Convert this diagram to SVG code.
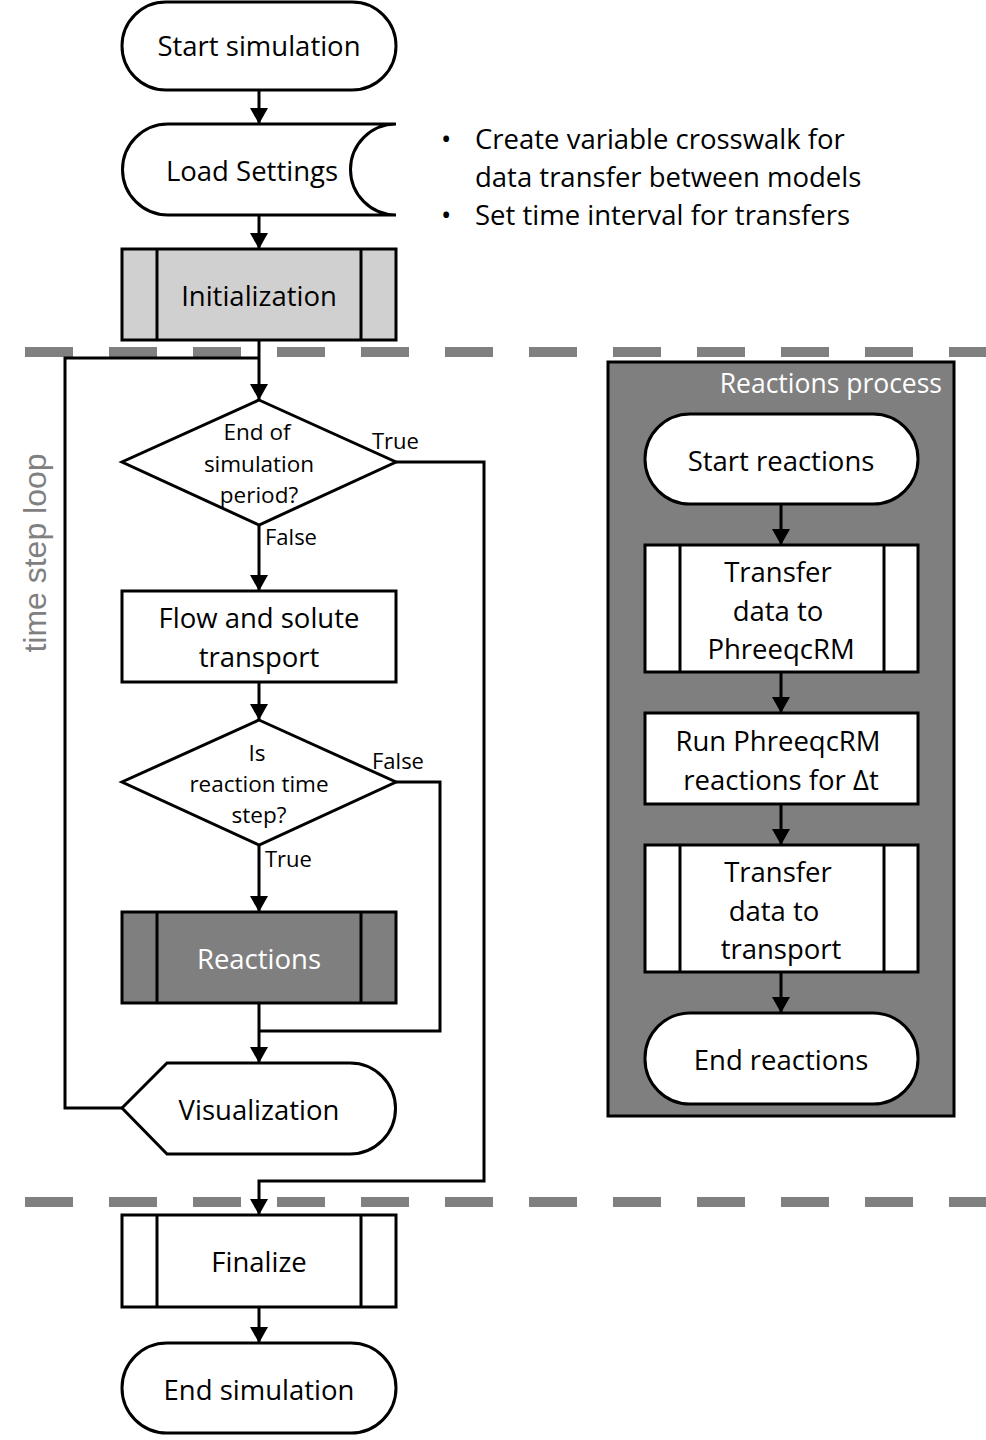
<svg xmlns="http://www.w3.org/2000/svg" width="986" height="1440" viewBox="0 0 986 1440">
  <defs>
    <marker id="arrow" viewBox="0 0 16 18" refX="16" refY="9" markerWidth="16" markerHeight="18" markerUnits="userSpaceOnUse" orient="auto">
      <path d="M0,0 L16,9 L0,18 Z" fill="#000"/>
    </marker>
    <style>
      .shape { fill: #fff; stroke: #000; stroke-width: 3; }
      .light { fill: #d0d0d0; }
      .dark { fill: #7f7f7f; }
      .line { fill: none; stroke: #000; stroke-width: 3; }
      .arr { fill: none; stroke: #000; stroke-width: 3; marker-end: url(#arrow); }
      .dash { fill: none; stroke: #808080; stroke-width: 10; stroke-dasharray: 48 36; }
      .lbl { font-family: "Open Sans", "Noto Sans", sans-serif; font-size: 27.5px; fill: #000; text-anchor: middle; }
      .note { font-family: "Open Sans", "Noto Sans", sans-serif; font-size: 27.5px; fill: #000; }
      .sm { font-family: "Open Sans", "Noto Sans", sans-serif; font-size: 22.5px; fill: #000; text-anchor: middle; }
      .tag { font-family: "Open Sans", "Noto Sans", sans-serif; font-size: 22px; fill: #000; }
      .white { fill: #fff; }
    </style>
  </defs>

  <!-- phase separators -->
  <line class="dash" x1="25" y1="352" x2="986" y2="352"/>
  <line class="dash" x1="25" y1="1202" x2="986" y2="1202"/>

  <text x="46" y="553" transform="rotate(-90 46 553)" style="font-family:'Liberation Sans',Arial,sans-serif;font-size:32px;fill:#808080;text-anchor:middle">time step loop</text>

  <!-- connectors -->
  <g id="connectors">
    <line class="arr" x1="259" y1="90" x2="259" y2="124"/>
    <line class="arr" x1="259" y1="215" x2="259" y2="249"/>
    <line class="arr" x1="259" y1="340" x2="259" y2="400"/>
    <polyline class="line" points="122,1108 65,1108 65,358 259,358"/>
    <polyline class="arr" points="396,462 484,462 484,1181 259,1181 259,1215"/>
    <line class="arr" x1="259" y1="525" x2="259" y2="591"/>
    <line class="arr" x1="259" y1="682" x2="259" y2="720"/>
    <line class="arr" x1="259" y1="845" x2="259" y2="912"/>
    <polyline class="line" points="396,782 440,782 440,1031 259,1031"/>
    <line class="arr" x1="259" y1="1003" x2="259" y2="1063"/>
    <line class="arr" x1="259" y1="1307" x2="259" y2="1343"/>
    <text class="tag" x="372" y="449">True</text>
    <text class="tag" x="265" y="545">False</text>
    <text class="tag" x="372" y="769">False</text>
    <text class="tag" x="265" y="867">True</text>
  </g>

  <g id="start-simulation">
    <rect class="shape" x="122" y="2" width="274" height="88" rx="44"/>
    <text class="lbl" x="259" y="56">Start simulation</text>
  </g>

  <g id="load-settings">
    <path class="shape" d="M396,124 L168,124 A45.5,45.5 0 0 0 168,215 L396,215 A45.5,45.5 0 0 1 396,124 Z"/>
    <text class="lbl" x="252" y="181">Load Settings</text>
  </g>

  <g id="notes">
    <text class="note" x="441" y="149">•</text>
    <text class="note" x="475" y="149">Create variable crosswalk for</text>
    <text class="note" x="475" y="187">data transfer between models</text>
    <text class="note" x="441" y="225">•</text>
    <text class="note" x="475" y="225">Set time interval for transfers</text>
  </g>

  <g id="initialization">
    <rect class="shape light" x="122" y="249" width="274" height="91"/>
    <line class="line" x1="157" y1="249" x2="157" y2="340"/>
    <line class="line" x1="361" y1="249" x2="361" y2="340"/>
    <text class="lbl" x="259" y="306">Initialization</text>
  </g>

  <g id="end-of-period">
    <polygon class="shape" points="259,400 396,462 259,525 122,462"/>
    <text class="sm" x="257" y="440">End of</text>
    <text class="sm" x="259" y="472">simulation</text>
    <text class="sm" x="259" y="503">period?</text>
  </g>

  <g id="flow-transport">
    <rect class="shape" x="122" y="591" width="274" height="91"/>
    <text class="lbl" x="259" y="628">Flow and solute</text>
    <text class="lbl" x="259" y="667">transport</text>
  </g>

  <g id="reaction-step">
    <polygon class="shape" points="259,720 396,782 259,845 122,782"/>
    <text class="sm" x="257" y="761">Is</text>
    <text class="sm" x="259" y="792">reaction time</text>
    <text class="sm" x="259" y="823">step?</text>
  </g>

  <g id="reactions">
    <rect class="shape dark" x="122" y="912" width="274" height="91"/>
    <line class="line" x1="157" y1="912" x2="157" y2="1003"/>
    <line class="line" x1="361" y1="912" x2="361" y2="1003"/>
    <text class="lbl white" x="259" y="969">Reactions</text>
  </g>

  <g id="visualization">
    <path class="shape" d="M122,1108 L167,1063 L350,1063 A45.5,45.5 0 0 1 350,1154 L167,1154 Z"/>
    <text class="lbl" x="259" y="1120">Visualization</text>
  </g>

  <g id="finalize">
    <rect class="shape" x="122" y="1215" width="274" height="92"/>
    <line class="line" x1="157" y1="1215" x2="157" y2="1307"/>
    <line class="line" x1="361" y1="1215" x2="361" y2="1307"/>
    <text class="lbl" x="259" y="1272">Finalize</text>
  </g>

  <g id="end-simulation">
    <rect class="shape" x="122" y="1343" width="274" height="90" rx="45"/>
    <text class="lbl" x="259" y="1400">End simulation</text>
  </g>

  <!-- reactions subprocess panel -->
  <g id="reactions-process">
    <rect x="608" y="362" width="346" height="754" fill="#7f7f7f" stroke="#000" stroke-width="3"/>
    <text class="lbl white" x="942" y="393" style="text-anchor:end;font-size:26.5px">Reactions process</text>
  </g>

  <g id="reaction-connectors">
    <line class="arr" x1="781" y1="504" x2="781" y2="545"/>
    <line class="arr" x1="781" y1="672" x2="781" y2="713"/>
    <line class="arr" x1="781" y1="804" x2="781" y2="845"/>
    <line class="arr" x1="781" y1="972" x2="781" y2="1013"/>
  </g>

  <g id="start-reactions">
    <rect class="shape" x="645" y="414" width="273" height="90" rx="45"/>
    <text class="lbl" x="781" y="471">Start reactions</text>
  </g>

  <g id="to-phreeqcrm">
    <rect class="shape" x="645" y="545" width="273" height="127"/>
    <line class="line" x1="680" y1="545" x2="680" y2="672"/>
    <line class="line" x1="884" y1="545" x2="884" y2="672"/>
    <text class="lbl" x="778" y="582">Transfer</text>
    <text class="lbl" x="778" y="621">data to</text>
    <text class="lbl" x="781" y="659">PhreeqcRM</text>
  </g>

  <g id="run-phreeqcrm">
    <rect class="shape" x="645" y="713" width="273" height="91"/>
    <text class="lbl" x="778" y="751">Run PhreeqcRM</text>
    <text class="lbl" x="781" y="790">reactions for Δt</text>
  </g>

  <g id="to-transport">
    <rect class="shape" x="645" y="845" width="273" height="127"/>
    <line class="line" x1="680" y1="845" x2="680" y2="972"/>
    <line class="line" x1="884" y1="845" x2="884" y2="972"/>
    <text class="lbl" x="778" y="882">Transfer</text>
    <text class="lbl" x="774" y="921">data to</text>
    <text class="lbl" x="781" y="959">transport</text>
  </g>

  <g id="end-reactions">
    <rect class="shape" x="645" y="1013" width="273" height="91" rx="45"/>
    <text class="lbl" x="781" y="1070">End reactions</text>
  </g>
</svg>
